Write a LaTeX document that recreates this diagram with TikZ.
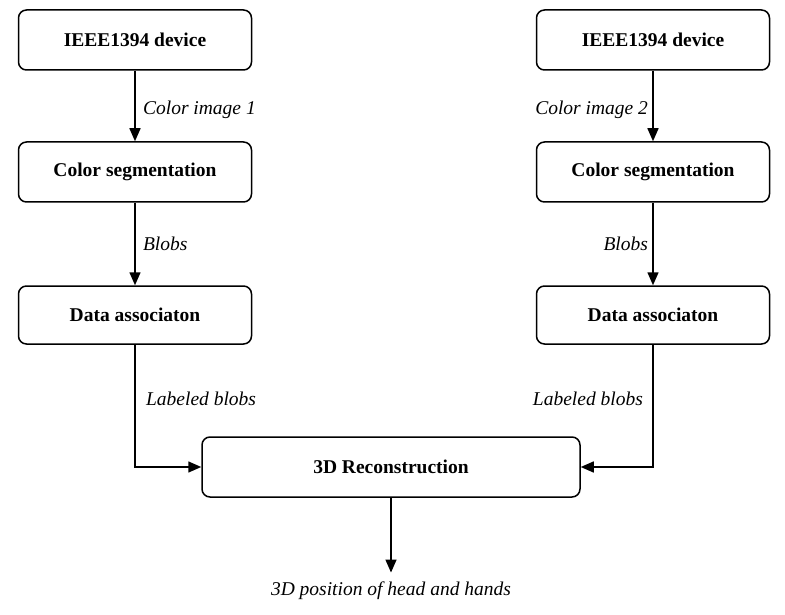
\documentclass[tikz,border=0pt]{standalone}
\usepackage{fontspec}
\setmainfont{Liberation Serif}
\usetikzlibrary{arrows.meta}
\tikzstyle{block}=[draw, line width=1.5pt, rounded corners=8pt, minimum width=233pt, minimum height=60pt, font=\fontsize{19.5}{23}\selectfont\bfseries]
\tikzstyle{flow}=[line width=1.5pt, -{Triangle[width=11pt,length=13pt]}]
\tikzstyle{lbl}=[font=\fontsize{19.5}{23}\selectfont\itshape]
\begin{document}
\begin{tikzpicture}[x=1pt,y=-1pt]
	\useasboundingbox (0,0) rectangle (785,615);
	\node[block] (dev1) at (135,40) {IEEE1394 device};
	\node[block] (seg1) at (135,172) {Color segmentation};
	\node[block, minimum height=58pt] (ass1) at (135,315) {Data associaton};
	\node[block] (dev2) at (653,40) {IEEE1394 device};
	\node[block] (seg2) at (653,172) {Color segmentation};
	\node[block, minimum height=58pt] (ass2) at (653,315) {Data associaton};
	\node[block, minimum width=378pt] (rec) at (391,467) {3D Reconstruction};
	\node[lbl] (pos) at (391,591) {3D position of head and hands};
	\draw[flow] (dev1) -- node[lbl, right, xshift=4pt, yshift=-4pt] {Color image 1} (seg1);
	\draw[flow] (seg1) -- node[lbl, right, xshift=4pt] {Blobs} (ass1);
	\draw[flow] (dev2) -- node[lbl, left, xshift=-1pt, yshift=-4pt] {Color image 2} (seg2);
	\draw[flow] (seg2) -- node[lbl, left, xshift=-1pt] {Blobs} (ass2);
	\draw[flow] (ass1) |- node[lbl, right, pos=0.22, xshift=7pt] {Labeled blobs} (rec);
	\draw[flow] (ass2) |- node[lbl, left, pos=0.22, xshift=-6pt] {Labeled blobs} (rec);
	\draw[flow, shorten >=6pt] (rec) -- (pos);
\end{tikzpicture}
\end{document}
